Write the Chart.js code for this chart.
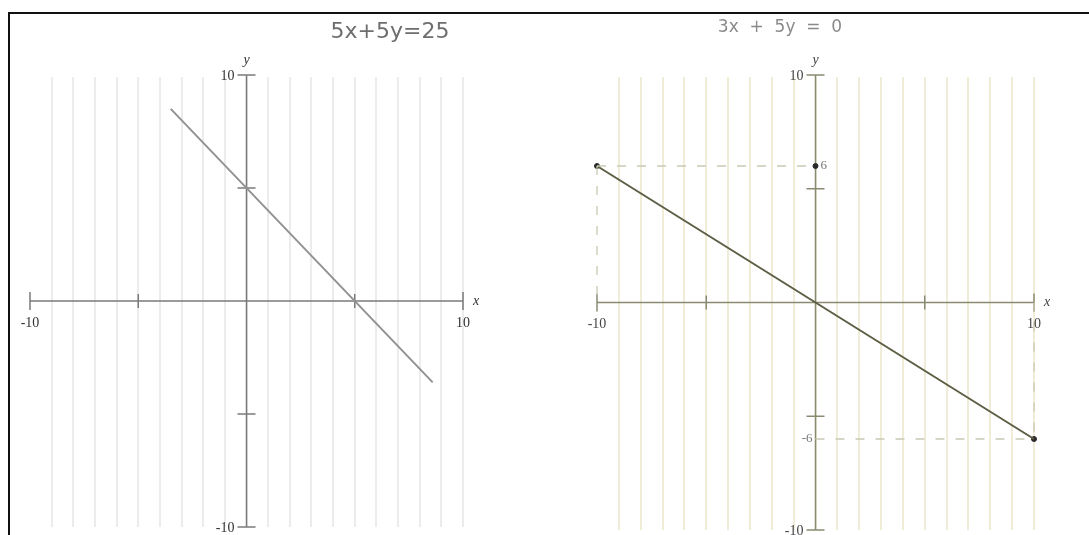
<!DOCTYPE html>
<html>
<head>
<meta charset="utf-8">
<script src="https://cdn.jsdelivr.net/npm/chart.js@4"></script>
<style>
body { margin: 0; background: #fff; width: 1089px; height: 535px; overflow: hidden; position: relative; }
#frame { position: absolute; left: 8px; top: 12px; width: 1081px; height: 523px; border-left: 2px solid #111; border-top: 2px solid #111; }
canvas { position: absolute; top: 0; }
#c1 { left: 0; }
#c2 { left: 545px; }
</style>
</head>
<body>
<div id="frame"></div>
<canvas id="c1" width="545" height="535"></canvas>
<canvas id="c2" width="544" height="535"></canvas>
<script>
// axis range and ticks (same on both graphs)
let axisMin = -10
let axisMax = 10
let xTicks = [-10, -5, 5, 10]
let yTicks = [10, 5, -5, -10]

// left graph: 5x + 5y = 25
let leftLineX = [-3.5, 8.6]
let leftLineY = [8.5, -3.6]

// right graph: 3x + 5y = 0
let rightLineX = [-10, 10]
let rightLineY = [6, -6]
let rightPointX = [-10, 0, 10]
let rightPointY = [6, 6, -6]
// dashed guide segments [x1, y1, x2, y2]
let guides = [
  [-10, 6, 0, 6],
  [-10, 6, -10, 0],
  [0, -6, 10, -6],
  [10, 0, 10, -6]
]

function pts(xs, ys) {
  return xs.map((x, i) => ({ x: x, y: ys[i] }))
}

function seg(ctx, x1, y1, x2, y2) {
  ctx.beginPath()
  ctx.moveTo(x1, y1)
  ctx.lineTo(x2, y2)
  ctx.stroke()
}

function axesPlugin(st) {
  return {
    id: "axes",
    beforeDatasetsDraw(chart) {
      let ctx = chart.ctx
      let xs = chart.scales.x
      let ys = chart.scales.y
      let a = chart.chartArea
      ctx.save()
      // vertical grid lines, one per unit
      ctx.strokeStyle = st.grid
      ctx.lineWidth = 2
      for (let v = axisMin + 1; v <= axisMax; v++) {
        let px = Math.round(xs.getPixelForValue(v))
        seg(ctx, px, a.top + 2, px, a.bottom)
      }
      let x0 = xs.getPixelForValue(0)
      let y0 = ys.getPixelForValue(0)
      ctx.strokeStyle = st.axis
      ctx.lineWidth = 1.5
      seg(ctx, xs.getPixelForValue(axisMin), y0, xs.getPixelForValue(axisMax), y0)
      seg(ctx, x0, ys.getPixelForValue(axisMax), x0, ys.getPixelForValue(axisMin))
      xTicks.forEach(v => {
        let p = xs.getPixelForValue(v)
        let h = Math.abs(v) == 10 ? 9 : 7
        seg(ctx, p, y0 - h, p, y0 + h)
      })
      yTicks.forEach(v => {
        let p = ys.getPixelForValue(v)
        seg(ctx, x0 - 9, p, x0 + 9, p)
      })
      ctx.restore()
    },
    afterDraw(chart) {
      let ctx = chart.ctx
      let xs = chart.scales.x
      let ys = chart.scales.y
      let x0 = xs.getPixelForValue(0)
      let y0 = ys.getPixelForValue(0)
      ctx.save()
      ctx.fillStyle = st.text
      ctx.font = "14px 'Liberation Serif'"
      ctx.textBaseline = "middle"
      ctx.textAlign = "center"
      ctx.fillText("-10", xs.getPixelForValue(axisMin), y0 + 22)
      ctx.fillText("10", xs.getPixelForValue(axisMax), y0 + 22)
      ctx.textAlign = "right"
      ctx.fillText("10", x0 - 12, ys.getPixelForValue(axisMax) + 1)
      ctx.fillText("-10", x0 - 12, ys.getPixelForValue(axisMin) + 1)
      ctx.font = "italic 14px 'Liberation Serif'"
      ctx.textAlign = "center"
      ctx.fillText("y", x0, ys.getPixelForValue(axisMax) - 15)
      ctx.textAlign = "left"
      ctx.fillText("x", xs.getPixelForValue(axisMax) + 10, y0)
      if (st.marks) {
        ctx.font = "13px 'Liberation Serif'"
        ctx.fillStyle = "#777"
        ctx.fillText("6", x0 + 5, ys.getPixelForValue(6))
        ctx.textAlign = "right"
        ctx.fillText("-6", x0 - 3, ys.getPixelForValue(-6))
      }
      // handwritten equation above the graph
      ctx.font = st.titleFont
      ctx.fillStyle = st.titleColor
      ctx.textAlign = "center"
      ctx.fillText(st.title, st.titleX, st.titleY)
      ctx.restore()
    }
  }
}

function makeOptions(pad) {
  return {
    responsive: false,
    animation: false,
    devicePixelRatio: 1,
    layout: { padding: pad },
    plugins: { legend: { display: false }, tooltip: { enabled: false } },
    scales: {
      x: { type: "linear", min: axisMin, max: axisMax, display: false },
      y: { type: "linear", min: axisMin, max: axisMax, display: false }
    }
  }
}

new Chart(document.querySelector("#c1"), {
  type: "scatter",
  data: {
    datasets: [{
      data: pts(leftLineX, leftLineY),
      showLine: true,
      borderColor: "#929292",
      borderWidth: 2,
      pointRadius: 0,
      clip: false
    }]
  },
  options: makeOptions({ left: 30, right: 82, top: 75, bottom: 8 }),
  plugins: [axesPlugin({
    grid: "#ececec", axis: "#7a7a7a", text: "#333",
    title: "5x+5y=25", titleX: 390, titleY: 32, titleFont: "22px 'DejaVu Sans'", titleColor: "#6e6e6e", marks: false
  })]
})

let rightSets = guides.map(g => ({
  data: [{ x: g[0], y: g[1] }, { x: g[2], y: g[3] }],
  showLine: true,
  borderColor: "#c9c9b4",
  borderWidth: 1.3,
  borderDash: [9, 11],
  pointRadius: 0,
  clip: false
}))
rightSets.push({
  data: pts(rightLineX, rightLineY),
  showLine: true,
  borderColor: "#5e5e44",
  borderWidth: 2,
  pointRadius: 0,
  clip: false
})
rightSets.push({
  data: pts(rightPointX, rightPointY),
  showLine: false,
  backgroundColor: "#2a2a2a",
  borderColor: "#2a2a2a",
  pointRadius: 2.5,
  clip: false
})

new Chart(document.querySelector("#c2"), {
  type: "scatter",
  data: { datasets: rightSets },
  options: makeOptions({ left: 52, right: 55, top: 75, bottom: 4 }),
  plugins: [axesPlugin({
    grid: "#efecd8", axis: "#8a8a72", text: "#444",
    title: "3x  +  5y  =  0", titleX: 235, titleY: 28, titleFont: "17px 'DejaVu Sans'", titleColor: "#8a8a8a", marks: true
  })]
})
</script>
</body>
</html>
